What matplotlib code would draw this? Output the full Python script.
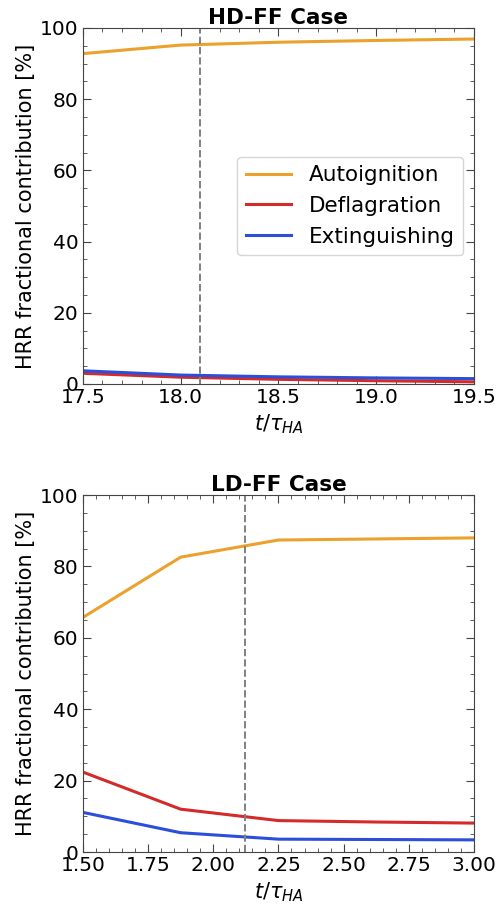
import matplotlib
matplotlib.use("Agg")
import matplotlib.pyplot as plt
from matplotlib.ticker import AutoMinorLocator

# HD-FF case
hd_t = [17.5, 18.0, 18.5, 19.0, 19.5]
hd_auto = [92.8, 95.2, 96.0, 96.5, 96.9]
hd_defl = [3.0, 1.9, 1.3, 0.9, 0.6]
hd_ext = [3.7, 2.5, 2.0, 1.7, 1.5]
hd_mark = 18.1

# LD-FF case
ld_t = [1.5, 1.875, 2.25, 2.625, 3.0]
ld_auto = [65.7, 82.6, 87.4, 87.7, 88.0]
ld_defl = [22.4, 12.0, 8.8, 8.4, 8.1]
ld_ext = [11.1, 5.4, 3.6, 3.5, 3.4]
ld_mark = 2.12

labels = ["Autoignition", "Deflagration", "Extinguishing"]
colors = ["#EBA12C", "#D42A2A", "#2B4FD8"]

plt.rcParams["font.size"] = 14

fig = plt.figure(figsize=(4.99, 9.09), dpi=100)
ax1 = fig.add_axes([0.166, 0.5776, 0.784, 0.3916])
ax2 = fig.add_axes([0.166, 0.0627, 0.784, 0.3927])


def style(ax, title):
    ax.set_ylim(0, 100)
    ax.set_title(title, fontweight="bold", fontsize=15.5, pad=2)
    ax.set_ylabel("HRR fractional contribution [%]", fontsize=15, labelpad=3)
    ax.set_xlabel(r"$t/\tau_{HA}$", fontsize=15, labelpad=4)
    ax.xaxis.set_minor_locator(AutoMinorLocator())
    ax.yaxis.set_minor_locator(AutoMinorLocator(4))
    ax.tick_params(which="both", direction="in", top=True, right=True,
                   color="#444444", labelsize=14.5)
    ax.tick_params(which="major", length=6, pad=3)
    ax.tick_params(which="minor", length=3)
    for s in ax.spines.values():
        s.set_color("#444444")


for ys, lab, c in zip([hd_auto, hd_defl, hd_ext], labels, colors):
    ax1.plot(hd_t, ys, color=c, lw=2.2, label=lab)
ax1.axvline(hd_mark, color="gray", ls="--", lw=1.4)
ax1.set_xlim(17.5, 19.5)
ax1.set_xticks([17.5, 18.0, 18.5, 19.0, 19.5])
style(ax1, "HD-FF Case")
ax1.legend(loc="center right", fontsize=15.5, handlelength=2.1,
           bbox_to_anchor=(0.972, 0.5), borderaxespad=0)

for ys, lab, c in zip([ld_auto, ld_defl, ld_ext], labels, colors):
    ax2.plot(ld_t, ys, color=c, lw=2.2, label=lab)
ax2.axvline(ld_mark, color="gray", ls="--", lw=1.4)
ax2.set_xlim(1.5, 3.0)
ax2.set_xticks([1.5, 1.75, 2.0, 2.25, 2.5, 2.75, 3.0])
style(ax2, "LD-FF Case")

fig.savefig("out.png", dpi=100)
